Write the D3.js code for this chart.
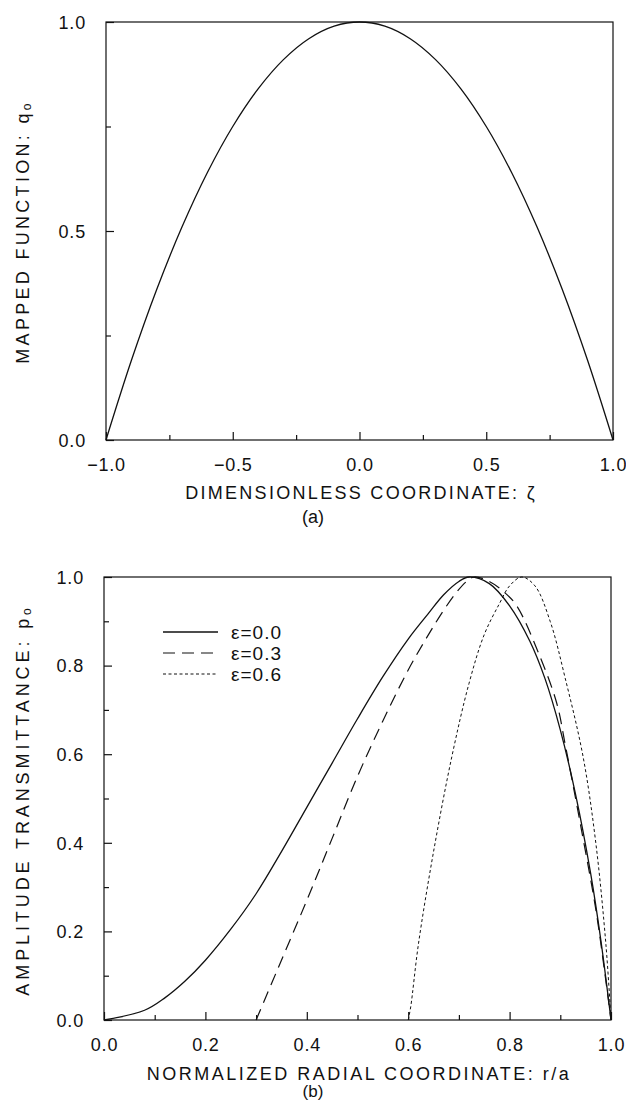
<!DOCTYPE html>
<html><head><meta charset="utf-8">
<script src="https://cdn.jsdelivr.net/npm/d3@7"></script>
<style>
body{margin:0;background:#fff;}
svg text{font-family:"Liberation Sans","DejaVu Sans",sans-serif;fill:#111;white-space:pre;}
</style></head>
<body><svg id="c" width="626" height="1103"></svg>
<script>
// ---- Data ----
const zetaA = [-1.0,-0.9,-0.8,-0.7,-0.6,-0.5,-0.4,-0.3,-0.2,-0.1,0.0,0.1,0.2,0.3,0.4,0.5,0.6,0.7,0.8,0.9,1.0];
const qA    = [0.0,0.19,0.36,0.51,0.64,0.75,0.84,0.91,0.96,0.99,1.0,0.99,0.96,0.91,0.84,0.75,0.64,0.51,0.36,0.19,0.0];

const rEps0 = [0.0,0.08,0.12,0.16,0.2,0.25,0.3,0.35,0.4,0.45,0.5,0.55,0.6,0.64,0.67,0.7,0.72,0.76,0.8,0.84,0.87,0.9,0.93,0.96,0.98,1.0];
const pEps0 = [0.0,0.022,0.05,0.088,0.135,0.205,0.285,0.38,0.48,0.58,0.68,0.775,0.86,0.918,0.96,0.99,1.0,0.985,0.935,0.855,0.77,0.655,0.51,0.33,0.18,0.0];

const rEps3 = [0.30,0.35,0.4,0.45,0.5,0.55,0.6,0.64,0.67,0.695,0.715,0.73,0.76,0.79,0.814,0.86,0.893,0.91,0.94,0.97,0.985,1.0];
const pEps3 = [0.0,0.135,0.27,0.41,0.55,0.675,0.79,0.87,0.925,0.965,0.99,1.0,0.99,0.965,0.935,0.82,0.715,0.62,0.44,0.25,0.13,0.0];

const rEps6 = [0.60,0.605,0.62,0.65,0.686,0.72,0.75,0.78,0.80,0.824,0.85,0.88,0.91,0.945,0.97,0.99,1.0];
const pEps6 = [0.0,0.03,0.17,0.38,0.594,0.76,0.87,0.94,0.98,1.0,0.98,0.90,0.77,0.594,0.40,0.17,0.0];

const legendLabels = ["\u03b5=0.0","\u03b5=0.3","\u03b5=0.6"];
const ticksAMajorX = [-1.0,-0.5,0.0,0.5,1.0];
const ticksAMinorX = [-0.75,-0.25,0.25,0.75];
const ticksAMajorY = [0.0,0.5,1.0];
const ticksAMinorY = [0.25,0.75];
const ticksBMajor = [0.0,0.2,0.4,0.6,0.8,1.0];
const ticksBMinor = [0.1,0.3,0.5,0.7,0.9];

const svg = d3.select("#c");
const fmt = d => d3.format(".1f")(d).replace("-","\u2212");

function frame(g, x, y, xMaj, xMin, yMaj, yMin){
  const [x0,x1] = x.range(), [y1,y0] = y.range();
  g.append("rect").attr("x",x0).attr("y",y0).attr("width",x1-x0).attr("height",y1-y0)
    .attr("fill","none").attr("stroke","#111").attr("stroke-width",1.2);
  const ax = g.append("g").attr("transform",`translate(0,${y1})`)
    .call(d3.axisBottom(x).tickValues(xMaj).tickSizeInner(-8).tickSizeOuter(0).tickPadding(18).tickFormat(fmt));
  const axm = g.append("g").attr("transform",`translate(0,${y1})`)
    .call(d3.axisBottom(x).tickValues(xMin).tickSizeInner(-5).tickSizeOuter(0).tickFormat(""));
  const ay = g.append("g").attr("transform",`translate(${x0},0)`)
    .call(d3.axisLeft(y).tickValues(yMaj).tickSizeInner(-8).tickSizeOuter(0).tickPadding(20).tickFormat(fmt));
  const aym = g.append("g").attr("transform",`translate(${x0},0)`)
    .call(d3.axisLeft(y).tickValues(yMin).tickSizeInner(-5).tickSizeOuter(0).tickFormat(""));
  [ax,axm,ay,aym].forEach(a=>{
    a.select(".domain").remove();
    a.selectAll("line").attr("stroke","#111").attr("stroke-width",1.2);
    a.selectAll("text").attr("font-size",18).attr("fill","#111").attr("letter-spacing",0.8)
      .style("font-family","'Liberation Sans','DejaVu Sans',sans-serif");
  });
  ay.selectAll("text").attr("dy","0.35em");
}

// ---- Panel (a) ----
const xa = d3.scaleLinear().domain([-1,1]).range([106,613]);
const ya = d3.scaleLinear().domain([0,1]).range([440,22]);
const ga = svg.append("g");
frame(ga, xa, ya, ticksAMajorX, ticksAMinorX, ticksAMajorY, ticksAMinorY);
const lineA = d3.line().x((d,i)=>xa(zetaA[i])).y(d=>ya(d)).curve(d3.curveCatmullRom.alpha(0.5));
ga.append("path").datum(qA).attr("d",lineA).attr("fill","none").attr("stroke","#111").attr("stroke-width",1.3);

ga.append("text").attr("x",361).attr("y",499).attr("text-anchor","middle")
  .attr("font-size",18).attr("letter-spacing",2.3).text("DIMENSIONLESS COORDINATE: \u03b6");
ga.append("text").attr("x",313).attr("y",523).attr("text-anchor","middle").attr("font-size",18).text("(a)");
const tA = ga.append("text").attr("transform","translate(29,232) rotate(-90)").attr("text-anchor","middle")
  .attr("font-size",18).attr("letter-spacing",3.3);
tA.append("tspan").text("MAPPED FUNCTION: q");
tA.append("tspan").attr("font-size",12).attr("dy",2).text("o");

// ---- Panel (b) ----
const xb = d3.scaleLinear().domain([0,1]).range([104,611]);
const yb = d3.scaleLinear().domain([0,1]).range([1020,577]);
const gb = svg.append("g");
frame(gb, xb, yb, ticksBMajor, ticksBMinor, ticksBMajor, ticksBMinor);
const mk = (rs) => d3.line().x((d,i)=>xb(rs[i])).y(d=>yb(d)).curve(d3.curveCatmullRom.alpha(0.5));
const styles = [
  {r:rEps0,p:pEps0,dash:null,w:1.3},
  {r:rEps3,p:pEps3,dash:"12,7",w:1.2},
  {r:rEps6,p:pEps6,dash:"3,2.5",w:1.0}
];
styles.forEach(s=>{
  gb.append("path").datum(s.p).attr("d",mk(s.r)).attr("fill","none").attr("stroke","#111")
    .attr("stroke-width",s.w).attr("stroke-dasharray",s.dash);
});
// legend
const legY = [632,653,674];
styles.forEach((s,i)=>{
  gb.append("line").attr("x1",163).attr("x2",218).attr("y1",legY[i]).attr("y2",legY[i])
    .attr("stroke","#111").attr("stroke-width",s.w).attr("stroke-dasharray",s.dash);
  gb.append("text").attr("x",231).attr("y",legY[i]).attr("dy","0.35em").attr("font-size",19)
    .attr("letter-spacing",1).text(legendLabels[i]);
});
gb.append("text").attr("x",359).attr("y",1080).attr("text-anchor","middle")
  .attr("font-size",18).attr("letter-spacing",2.5).text("NORMALIZED RADIAL COORDINATE: r/a");
gb.append("text").attr("x",313).attr("y",1097).attr("text-anchor","middle").attr("font-size",17).text("(b)");
const tB = gb.append("text").attr("transform","translate(29,800) rotate(-90)").attr("text-anchor","middle")
  .attr("font-size",18).attr("letter-spacing",3.9);
tB.append("tspan").text("AMPLITUDE TRANSMITTANCE: p");
tB.append("tspan").attr("font-size",12).attr("dy",2).text("o");
</script></body></html>
